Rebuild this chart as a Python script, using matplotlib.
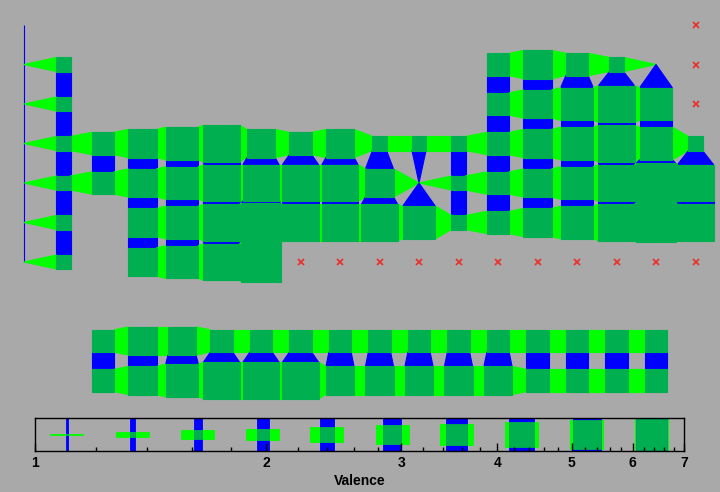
import matplotlib
matplotlib.use("Agg")
import matplotlib.pyplot as plt
import matplotlib.transforms as mtransforms
from matplotlib.patches import Polygon, Rectangle
from matplotlib.ticker import NullFormatter
import numpy as np

N = np.nan  # site with missing valence, drawn as a red cross

# valence of each lattice site (0 = no site)
top_valence = np.array([
    # c0 c1 c2 c3 c4 c5 c6 c7 c8 c9 c10 c11 c12 c13 c14 c15 c16 c17
    [1, 0, 0, 0, 0, 0, 0, 0, 0, 0, 0, 0, 0, 0, 0, 0, 0, N],
    [1, 2, 0, 0, 0, 0, 0, 0, 0, 0, 0, 0, 3, 4, 3, 2, 1, N],
    [1, 2, 0, 0, 0, 0, 0, 0, 0, 0, 0, 0, 3, 4, 5, 6, 5, N],
    [1, 2, 3, 4, 5, 6, 4, 3, 4, 2, 2, 2, 3, 4, 5, 6, 5, 2],
    [1, 2, 3, 4, 5, 6, 6, 6, 6, 4, 1, 2, 3, 4, 5, 6, 7, 6],
    [1, 2, 0, 4, 5, 6, 7, 6, 6, 6, 5, 2, 3, 4, 5, 6, 7, 6],
    [1, 2, 0, 4, 5, 6, 7, N, N, N, N, N, N, N, N, N, N, N],
])

# second strip (rows 8 and 9, columns 2..16)
strip_first_col = 2
strip_first_row = 8
strip_upper = [3, 4, 4, 3, 3, 3, 3, 3, 3, 3, 3, 3, 3, 3, 3]
strip_lower = [3, 4, 5, 6, 6, 6, 4, 4, 4, 4, 4, 3, 3, 3, 3]

# valences shown in the key
legend_valence = [1.10, 1.34, 1.63, 1.98, 2.40, 2.92, 3.54, 4.30, 5.23, 6.35]
major_ticks = [1, 2, 3, 4, 5, 6, 7]
minor_ticks = [1.2, 1.4, 1.6, 1.8, 2.2, 2.4, 2.6, 2.8, 3.2, 3.4, 3.6, 3.8,
               4.2, 4.4, 4.6, 4.8, 5.2, 5.4, 5.6, 5.8, 6.2, 6.4, 6.6, 6.8]

VMAX = 7
BG = '#a9a9a9'
NODE = '#00b050'
HBOND = '#00ff00'
VBOND = '#0000ff'
MISS = '#e8342e'

CELL = 39.5        # px per lattice step
X0, Y0 = 24, 25    # px position of site (0, 0)
KEY = 0.33         # key glyph cell, inches

plt.rcParams['font.family'] = ['Liberation Sans', 'DejaVu Sans']
plt.rcParams['font.weight'] = 'bold'


def side(v):
    return np.log(v) / np.log(VMAX)


def present(v):
    return not np.isnan(v) and v > 0


def draw_lattice(ax, grid, row0=0, col0=0):
    nrow, ncol = grid.shape
    kw = dict(lw=0.8, joinstyle='miter')
    for r in range(nrow):
        for c in range(ncol):
            v = grid[r, c]
            if not present(v):
                continue
            x, y, a = c + col0, r + row0, side(v)
            if c + 1 < ncol and present(grid[r, c + 1]):
                b = side(grid[r, c + 1])
                ax.add_patch(Polygon([(x + a / 2, y - a / 2), (x + 1 - b / 2, y - b / 2),
                                      (x + 1 - b / 2, y + b / 2), (x + a / 2, y + a / 2)],
                                     fc=HBOND, ec=HBOND, zorder=1, **kw))
            if r + 1 < nrow and present(grid[r + 1, c]):
                b = side(grid[r + 1, c])
                ax.add_patch(Polygon([(x - a / 2, y + a / 2), (x + a / 2, y + a / 2),
                                      (x + b / 2, y + 1 - b / 2), (x - b / 2, y + 1 - b / 2)],
                                     fc=VBOND, ec=VBOND, zorder=1, **kw))
    for r in range(nrow):
        for c in range(ncol):
            v = grid[r, c]
            if present(v) and v > 1:
                a = side(v)
                ax.add_patch(Rectangle((c + col0 - a / 2, r + row0 - a / 2), a, a,
                                       fc=NODE, ec=NODE, zorder=2, **kw))
    rr, cc = np.where(np.isnan(grid))
    ax.plot(cc + col0, rr + row0, 'x', color=MISS, ms=4.5, mew=1.3, zorder=3)


fig = plt.figure(figsize=(7.2, 4.92), dpi=100, facecolor=BG)

# lattice panel, one data unit = one lattice step
top_px = 410
ax = fig.add_axes([0, (492 - top_px) / 492, 1, top_px / 492])
ax.set_xlim(-X0 / CELL, (720 - X0) / CELL)
ax.set_ylim((top_px - Y0) / CELL, -Y0 / CELL)
ax.axis('off')

draw_lattice(ax, top_valence)
strip = np.array([strip_upper, strip_lower], dtype=float)
draw_lattice(ax, strip, row0=strip_first_row, col0=strip_first_col)

# key with log valence axis
lax = fig.add_axes([35 / 720, (492 - 451) / 492, 649 / 720, 33 / 492])
lax.set_facecolor(BG)
lax.set_xscale('log')
lax.set_xlim(1, 7)
lax.set_ylim(0, 1)
for v in legend_valence:
    s = side(v) * KEY
    trans = fig.dpi_scale_trans + mtransforms.ScaledTranslation(v, 0.5, lax.transData)
    lax.add_patch(Rectangle((-KEY / 2, -s / 2), KEY, s, fc=HBOND, ec=HBOND, lw=0.6, transform=trans))
    lax.add_patch(Rectangle((-s / 2, -KEY / 2), s, KEY, fc=VBOND, ec=VBOND, lw=0.6, transform=trans))
    lax.add_patch(Rectangle((-s / 2, -s / 2), s, s, fc=NODE, ec=NODE, lw=0.6, transform=trans))

lax.set_xticks(major_ticks, labels=[str(t) for t in major_ticks])
lax.set_xticks(minor_ticks, minor=True)
lax.xaxis.set_minor_formatter(NullFormatter())
lax.tick_params(axis='x', which='major', direction='in', length=5.5, width=1,
                labelsize=10, pad=3.5, top=False)
lax.tick_params(axis='x', which='minor', direction='in', length=3, width=1, top=False)
lax.tick_params(axis='y', left=False, labelleft=False)
for sp in lax.spines.values():
    sp.set_linewidth(1.0)
    sp.set_color('black')
lax.set_xlabel('Valence', fontsize=10, fontweight='bold', labelpad=3)

fig.savefig('out.png', dpi=100, facecolor=BG)
